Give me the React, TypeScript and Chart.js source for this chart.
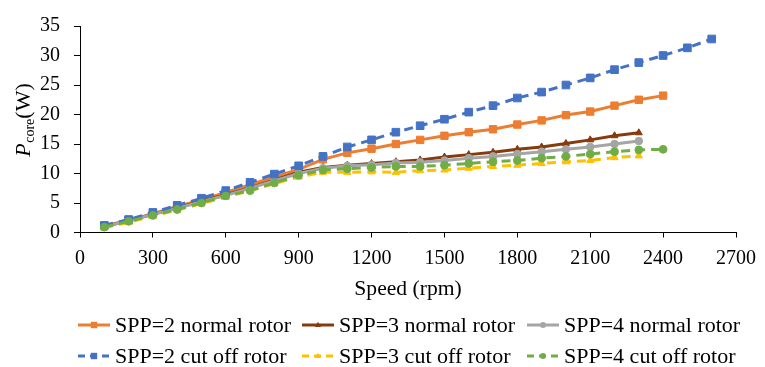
import React, { useEffect, useRef } from 'react';
import { Chart, registerables } from 'chart.js';

Chart.register(...registerables);

// Speed (rpm) values
const speeds = [100, 200, 300, 400, 500, 600, 700, 800, 900, 1000, 1100, 1200, 1300, 1400, 1500, 1600, 1700, 1800, 1900, 2000, 2100, 2200, 2300, 2400, 2500, 2600];

// Core loss (W) per series
const spp2Normal = [1.1, 2.1, 3.2, 4.4, 5.5, 6.8, 8.1, 9.4, 10.7, 12.4, 13.5, 14.2, 15.0, 15.7, 16.4, 17.0, 17.5, 18.3, 19.0, 19.9, 20.5, 21.5, 22.5, 23.2];
const spp3Normal = [1.0, 2.0, 3.1, 4.2, 5.3, 6.4, 7.6, 8.9, 10.2, 11.0, 11.4, 11.7, 12.0, 12.3, 12.8, 13.2, 13.6, 14.1, 14.5, 15.1, 15.7, 16.4, 16.9];
const spp4Normal = [1.0, 2.0, 3.1, 4.1, 5.2, 6.3, 7.5, 8.8, 10.0, 10.9, 11.3, 11.5, 11.8, 11.9, 12.2, 12.6, 12.9, 13.3, 13.7, 14.1, 14.5, 15.0, 15.5];
const spp2Cut = [1.2, 2.2, 3.4, 4.6, 5.8, 7.1, 8.5, 9.9, 11.3, 12.9, 14.5, 15.7, 17.0, 18.1, 19.2, 20.4, 21.5, 22.8, 23.8, 25.0, 26.2, 27.6, 28.8, 30.0, 31.3, 32.8];
const spp3Cut = [0.8, 1.7, 2.8, 3.8, 4.9, 6.0, 7.1, 8.3, 9.4, 10.2, 10.2, 10.3, 10.2, 10.5, 10.6, 10.9, 11.2, 11.4, 11.7, 12.0, 12.2, 12.7, 13.0];
const spp4Cut = [0.9, 1.9, 2.9, 3.9, 5.0, 6.2, 7.1, 8.4, 9.7, 10.6, 10.8, 11.0, 11.2, 11.2, 11.4, 11.7, 12.0, 12.2, 12.6, 12.9, 13.3, 13.7, 14.0, 14.1];

const seriesLabels = [
  'SPP=2 normal rotor',
  'SPP=3 normal rotor',
  'SPP=4 normal rotor',
  'SPP=2 cut off rotor',
  'SPP=3 cut off rotor',
  'SPP=4 cut off rotor',
];
const seriesValues = [spp2Normal, spp3Normal, spp4Normal, spp2Cut, spp3Cut, spp4Cut];
const seriesColors = ['#ED7D31', '#843C0C', '#A5A5A5', '#4472C4', '#FFC000', '#70AD47'];
const seriesDashed = [false, false, false, true, true, true];
const seriesMarkers = ['rect', 'triangle', 'circle', 'rect', 'triangle', 'circle'];
const markerRadius = [5.2, 4, 3.8, 5.4, 4.2, 3.9];

const xTicks = [0, 2700, 300];
const yTicks = [0, 35, 5];

const FONT = "'Liberation Serif', 'Times New Roman', serif";

function drawMarker(ctx: CanvasRenderingContext2D, style: string, x: number, y: number, r: number) {
  ctx.beginPath();
  if (style === 'rect') {
    ctx.rect(x - r, y - r, 2 * r, 2 * r);
  } else if (style === 'triangle') {
    ctx.moveTo(x, y - r * 1.1);
    ctx.lineTo(x + r, y + r * 0.7);
    ctx.lineTo(x - r, y + r * 0.7);
    ctx.closePath();
  } else {
    ctx.arc(x, y, r, 0, Math.PI * 2);
  }
  ctx.fill();
}

const customLegend = {
  id: 'customLegend',
  afterDraw(chart: any) {
    const ctx = chart.ctx as CanvasRenderingContext2D;
    const area = chart.chartArea;
    const cols = [area.left - 2, area.left + 222, area.left + 447];
    const rows = [area.bottom + 99.5, area.bottom + 130.5];
    ctx.save();
    ctx.font = `22px ${FONT}`;
    ctx.textBaseline = 'alphabetic';
    ctx.textAlign = 'left';
    chart.data.datasets.forEach((ds: any, i: number) => {
      const col = i % 3;
      const row = Math.floor(i / 3);
      const x0 = cols[col];
      const base = rows[row];
      const cy = base - 7;
      ctx.strokeStyle = ds.borderColor;
      ctx.fillStyle = ds.borderColor;
      ctx.lineWidth = 3;
      ctx.setLineDash(seriesDashed[i] ? [7, 5] : []);
      ctx.beginPath();
      ctx.moveTo(x0, cy);
      ctx.lineTo(x0 + 32, cy);
      ctx.stroke();
      ctx.setLineDash([]);
      drawMarker(ctx, seriesMarkers[i], x0 + 16, cy, seriesMarkers[i] === 'rect' ? 3.2 : 3);
      ctx.fillStyle = '#000';
      ctx.fillText(seriesLabels[i], x0 + 37, base);
    });
    ctx.restore();
  },
};

const yTitle = {
  id: 'yTitle',
  afterDraw(chart: any) {
    const ctx = chart.ctx as CanvasRenderingContext2D;
    const area = chart.chartArea;
    ctx.save();
    const fBig = `22px ${FONT}`;
    const fItal = `italic 22px ${FONT}`;
    const fSmall = `14px ${FONT}`;
    ctx.font = fItal;
    const wP = ctx.measureText('P').width;
    ctx.font = fSmall;
    const wC = ctx.measureText('core').width;
    ctx.font = fBig;
    const wW = ctx.measureText('(W)').width;
    const total = wP + wC + wW;
    const cy = (area.top + area.bottom) / 2 - 9;
    ctx.translate(30, cy + total / 2);
    ctx.rotate(-Math.PI / 2);
    ctx.fillStyle = '#000';
    ctx.textBaseline = 'alphabetic';
    ctx.textAlign = 'left';
    ctx.font = fItal;
    ctx.fillText('P', 0, 0);
    ctx.font = fSmall;
    ctx.fillText('core', wP + 0.5, 3.5);
    ctx.font = fBig;
    ctx.fillText('(W)', wP + wC + 0.5, 0);
    ctx.restore();
  },
};

export default function App() {
  const ref = useRef<HTMLCanvasElement>(null);

  useEffect(() => {
    if (!ref.current) return;
    const datasets = seriesValues.map((vals, i) => ({
      label: seriesLabels[i],
      data: vals.map((v, j) => ({ x: speeds[j], y: v })),
      borderColor: seriesColors[i],
      backgroundColor: seriesColors[i],
      pointBackgroundColor: seriesColors[i],
      pointBorderColor: seriesColors[i],
      borderWidth: 3,
      borderDash: seriesDashed[i] ? [9, 6] : [],
      pointStyle: seriesMarkers[i],
      pointRadius: markerRadius[i],
      pointBorderWidth: 1,
      tension: 0,
      fill: false,
      order: 5 - i,
    }));

    const chart = new Chart(ref.current, {
      type: 'line',
      data: { datasets },
      plugins: [customLegend, yTitle],
      options: {
        animation: false,
        responsive: false,
        maintainAspectRatio: false,
        layout: { padding: { left: 0, right: 25, top: 16, bottom: 64.5 } },
        plugins: {
          legend: { display: false },
          tooltip: { enabled: false },
        },
        scales: {
          x: {
            type: 'linear',
            min: xTicks[0],
            max: xTicks[1],
            afterFit: (s: any) => {
              s.height = 70;
            },
            ticks: {
              stepSize: xTicks[2],
              color: '#000',
              padding: 9,
              font: { family: FONT, size: 20 },
              maxRotation: 0,
              autoSkip: false,
              callback: (v: any) => String(v),
            },
            grid: {
              display: true,
              drawOnChartArea: false,
              drawTicks: true,
              tickLength: 5,
              color: '#000',
            },
            border: { display: true, color: '#000', width: 1 },
            title: {
              display: true,
              text: 'Speed (rpm)',
              color: '#000',
              font: { family: FONT, size: 21.6 },
              padding: { top: 0, bottom: 0 },
            },
          },
          y: {
            min: yTicks[0],
            max: yTicks[1],
            afterFit: (s: any) => {
              s.width = 80;
            },
            ticks: {
              stepSize: yTicks[2],
              color: '#000',
              padding: 14,
              font: { family: FONT, size: 20 },
              callback: (v: any) => String(v),
            },
            grid: {
              display: true,
              drawOnChartArea: false,
              drawTicks: true,
              tickLength: 6,
              color: '#000',
            },
            border: { display: true, color: '#000', width: 1 },
          },
        },
      } as any,
    });
    return () => chart.destroy();
  }, []);

  return (
    <div style={{ position: 'fixed', left: 0, top: 0, width: 765, height: 367, background: '#fff' }}>
      <canvas ref={ref} width={765} height={367} style={{ display: 'block', width: 765, height: 367 }} />
    </div>
  );
}
